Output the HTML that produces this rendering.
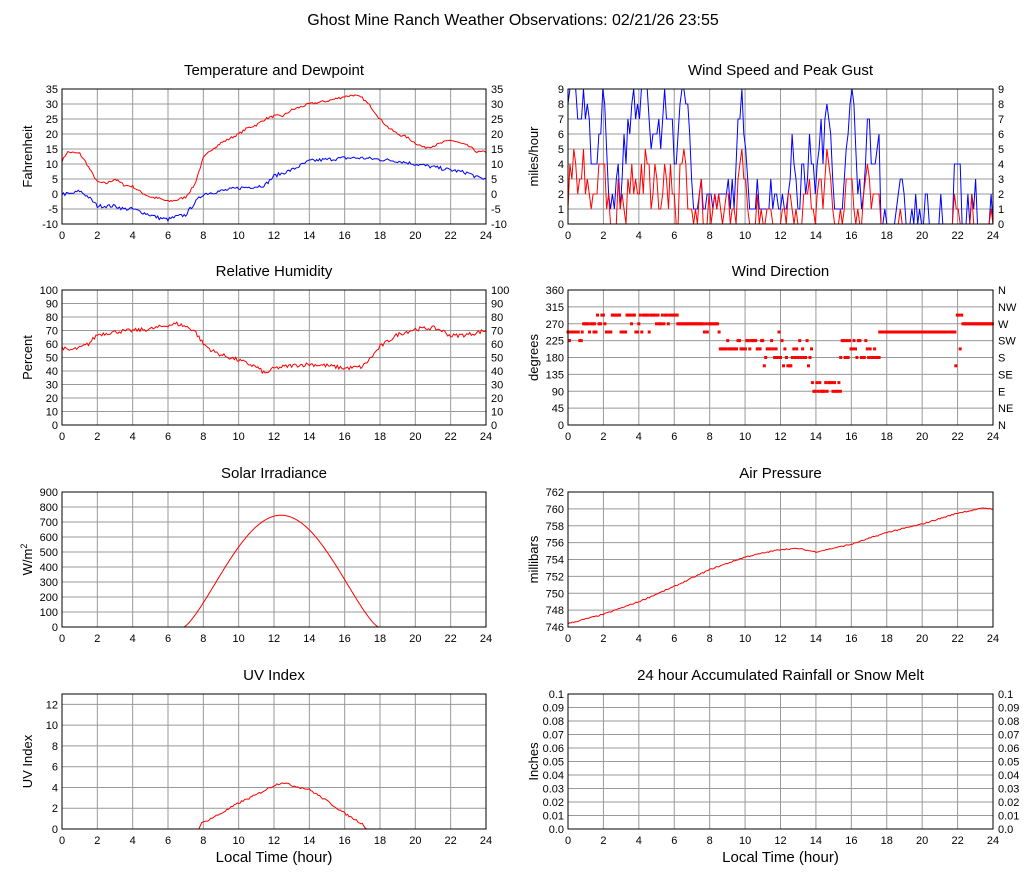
<!DOCTYPE html>
<html><head><meta charset="utf-8"><style>
body{margin:0;background:#fff;}
svg{display:block;font-family:"Liberation Sans",Arial,sans-serif;}
</style></head><body>
<svg id="s" width="1027" height="878" xmlns="http://www.w3.org/2000/svg"></svg>
<script>
var S=document.getElementById('s'),out='';
function t(x,y,s,sz,anc,extra){out+='<text x="'+x+'" y="'+y+'" font-size="'+sz+'" text-anchor="'+(anc||'start')+'" '+(extra||'')+'>'+s+'</text>';}
var seed=7;function rnd(){seed=(seed*16807)%2147483647;return seed/2147483647;}
function interp(k,h){for(var i=0;i<k.length-1;i++){if(h>=k[i][0]&&h<=k[i+1][0]){var f=(h-k[i][0])/(k[i+1][0]-k[i][0]);return k[i][1]+f*(k[i+1][1]-k[i][1]);}}return k[k.length-1][1];}
function panel(o){
 var L=o.x,T=o.y,W=o.w,H=135,R=L+W,B=T+H;
 t((L+R)/2,T-14,o.title,15,'middle');
 for(var i=1;i<12;i++){var x=L+W*i/12;out+='<line x1="'+x+'" y1="'+T+'" x2="'+x+'" y2="'+B+'" stroke="#999"/>';}
 var n=o.ticks.length-1,span=o.tspan||n;
 for(var j=0;j<=n;j++){var y=B-H*j/span;if(j>0&&y>T+0.5)out+='<line x1="'+L+'" y1="'+y+'" x2="'+R+'" y2="'+y+'" stroke="#999"/>';
  t(L-4,y+4,o.ticks[j],11,'end');if(o.rt)t(R+5,y+4,o.rt[j],11,'start');}
 for(var i=0;i<=12;i++)t(L+W*i/12,B+15,i*2,11,'middle');
 t(L-30,(T+B)/2,o.yl,13,'middle','transform="rotate(-90 '+(L-30)+' '+((T+B)/2)+')"');
 if(o.xl)t((L+R)/2,B+33,'Local Time (hour)',15,'middle');
 var mn=o.min,mx=o.max;
 function Y(v){return B-(v-mn)/(mx-mn)*H;}
 (o.series||[]).forEach(function(sr){var p=[];for(var k=0;k<=sr.n;k++){var h=24*k/sr.n;var v=sr.f(h);v=Math.max(mn,Math.min(mx,v));p.push((L+W*h/24).toFixed(1)+','+Y(v).toFixed(1));}
  out+='<polyline fill="none" stroke="'+sr.c+'" stroke-width="1" points="'+p.join(' ')+'"/>';});
 if(o.dots)o.dots.forEach(function(d){out+='<rect x="'+(L+W*d[0]/24-1.5).toFixed(1)+'" y="'+(Y(d[1])-1.5).toFixed(1)+'" width="3" height="3" fill="red"/>';});
 out+='<rect x="'+L+'" y="'+T+'" width="'+W+'" height="'+H+'" fill="none" stroke="#000"/>';
}
t(513,25,'Ghost Mine Ranch Weather Observations: 02/21/26 23:55',16,'middle');
var tk=[[0,11],[0.3,14],[1,13.5],[1.3,11],[1.6,8],[2,4],[2.5,3.5],[3,5],[3.5,3],[4,2.5],[4.5,0.5],[5,-1],[5.5,-1.5],[6,-2.5],[6.5,-2],[7,-1],[7.5,3],[8,12],[8.5,15],[9,17],[9.5,18.5],[10,20],[10.5,22],[11,23],[11.5,25],[12,26],[12.5,26],[13,28],[13.5,29],[14,30],[15,31],[16,32.5],[16.5,33],[17,32],[17.5,29],[18,25],[18.5,22],[19,20],[19.5,19],[20,17],[20.5,15.5],[21,16],[21.5,17],[22,18],[22.5,17],[23,16],[23.5,14],[24,14]];
var dk=[[0,0],[0.5,0],[1,1],[1.5,-1],[2,-4],[3,-4],[3.5,-5],[4,-5],[4.5,-6],[5,-7],[5.5,-8],[6,-8.5],[6.5,-7.5],[7,-7],[7.5,-3],[8,0],[9,1],[10,2],[11,2.5],[11.5,3],[12,6],[13,8],[14,11],[15,11.5],[16,12],[17,12],[18,11.5],[19,11],[20,10],[21,9],[22,8],[23,7],[23.5,5.5],[24,5]];
var ticks=[];for(var v=-10;v<=35;v+=5)ticks.push(v);
panel({x:62,y:89,w:424,title:'Temperature and Dewpoint',ticks:ticks,rt:ticks,yl:'Fahrenheit',min:-10,max:35,series:[
 {c:'red',n:288,f:function(h){return interp(tk,h)+(rnd()-.5)*0.8;}},
 {c:'blue',n:288,f:function(h){return interp(dk,h)+(rnd()-.5)*1.2;}}]});
var ws=[0,1,2,3,4,5,6,7,8,9];
var N=220,blue=[],red=[],b=8,r=4;for(var i=0;i<=N;i++){var h=24*i/N;var calm=h>17.6;
 if(calm){b=rnd()<.3?Math.floor(1+rnd()*3):0;if(h>21.8&&h<22.2)b=4;r=rnd()<.3?Math.floor(rnd()*3):0;}
 else{b=Math.max(1,Math.min(9,b+Math.round((rnd()-.5)*6)));if(h<1)b=Math.max(b,7);if(h>8&&h<9)b=Math.min(b,2);r=Math.max(0,Math.min(5,Math.round(b*0.4+(rnd()-.5)*4)));}
 if(r>b)r=b;blue.push(b);red.push(r);}
panel({x:568,y:89,w:425,title:'Wind Speed and Peak Gust',ticks:ws,rt:ws,yl:'miles/hour',min:0,max:9,series:[
 {c:'blue',n:N,f:function(h){return blue[Math.round(h*N/24)];}},
 {c:'red',n:N,f:function(h){return red[Math.round(h*N/24)];}}]});
var rk=[[0,58],[0.3,55],[1,57],[1.5,60],[2,67],[3,69],[4,70],[5,71],[6,74],[6.5,75],[7,73],[7.5,70],[8,60],[8.5,55],[9,52],[10,48],[11,43],[11.5,38],[12,42],[13,44],[14,45],[15,44],[16,42],[17,43],[17.5,50],[18,58],[19,67],[20,71],[21,72],[21.5,70],[22,66],[23,67],[24,70]];
var rh=[];for(v=0;v<=100;v+=10)rh.push(v);
panel({x:62,y:290,w:424,title:'Relative Humidity',ticks:rh,rt:rh,yl:'Percent',min:0,max:100,series:[{c:'red',n:288,f:function(h){return interp(rk,h)+(rnd()-.5)*3;}}]});
var dir=[];function seg(a,b,vals){for(var h=a;h<b;h+=1/12){dir.push([h,vals[Math.floor(rnd()*vals.length)]]);}}
seg(0,0.8,[248,225]);seg(0.8,1.5,[248,270]);seg(1.5,6.2,[293,293,293,293,270,248]);seg(6.2,8.6,[270,270,270,248]);seg(8.6,11,[203,203,203,225]);seg(11,12.5,[180,203,225,248,158]);seg(12.5,13.8,[203,180,225,158]);seg(13.8,15.4,[90,113,90,113]);seg(15.4,17.6,[180,203,180,225]);seg(17.6,21.9,[248]);seg(21.9,22.3,[293,158,203]);seg(22.3,24,[270]);
var dt=[0,45,90,135,180,225,270,315,360];
panel({x:568,y:290,w:425,title:'Wind Direction',ticks:dt,rt:['N','NE','E','SE','S','SW','W','NW','N'],yl:'degrees',min:0,max:360,dots:dir});
var sol=[];for(v=0;v<=900;v+=100)sol.push(v);
panel({x:62,y:492,w:424,title:'Solar Irradiance',ticks:sol,yl:'W/m<tspan font-size="9" dy="-5">2</tspan>',min:0,max:900,series:[{c:'red',n:288,f:function(h){if(h<6.9||h>17.9)return 0;var x=(h-6.9)/11;return 745*Math.pow(Math.sin(Math.PI*x),1.3);}}]});
var pk=[[0,746.4],[2,747.5],[4,749],[6,750.8],[8,752.8],[10,754.3],[12,755.2],[13,755.3],[14,754.9],[16,755.8],[18,757.2],[20,758.2],[22,759.5],[23.5,760.1],[24,760]];
var pr=[];for(v=746;v<=762;v+=2)pr.push(v);
panel({x:568,y:492,w:425,title:'Air Pressure',ticks:pr,yl:'millibars',min:746,max:762,series:[{c:'red',n:288,f:function(h){return interp(pk,h)+(rnd()-.5)*0.15;}}]});
var uk=[[0,0],[7.8,0],[7.85,0.5],[9,1.5],[10,2.5],[11,3.3],[12,4.2],[12.5,4.5],[13,4.2],[14,3.8],[15,2.7],[16,1.5],[17,0.5],[17.2,0],[24,0]];
panel({x:62,y:694,w:424,title:'UV Index',ticks:[0,2,4,6,8,10,12],tspan:6.5,yl:'UV Index',xl:1,min:0,max:13,series:[{c:'red',n:288,f:function(h){return interp(uk,h)+(h>7.9&&h<17.1?(rnd()-.5)*0.2:0);}}]});
var rn=['0.0','0.01','0.02','0.03','0.04','0.05','0.06','0.07','0.08','0.09','0.1'];
panel({x:568,y:694,w:425,title:'24 hour Accumulated Rainfall or Snow Melt',ticks:rn,rt:rn,yl:'Inches',xl:1,min:0,max:0.1,series:[{c:'red',n:2,f:function(){return 0;}}]});
S.innerHTML=out;
</script>
</body></html>
